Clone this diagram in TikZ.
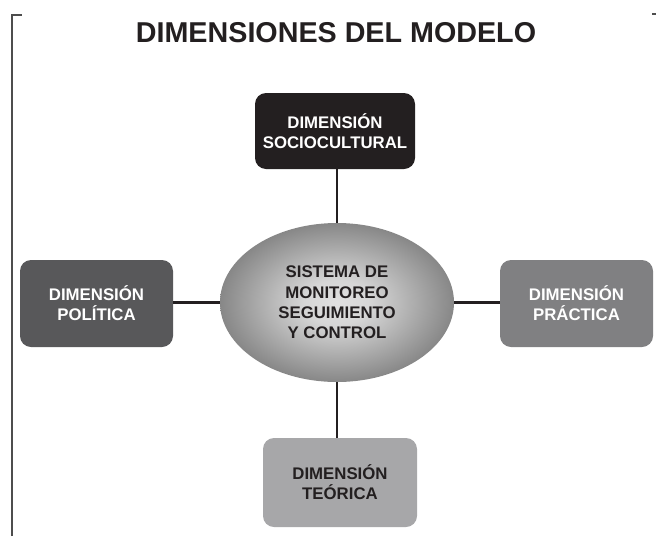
\documentclass[tikz,border=0pt]{standalone}
\usepackage{fontspec}
\setmainfont{Liberation Sans}
\usepackage{xcolor}
\usetikzlibrary{shapes.geometric, positioning, calc}

\definecolor{dimblack}{HTML}{231F20}
\definecolor{dimdark}{HTML}{58585A}
\definecolor{dimmid}{HTML}{808082}
\definecolor{dimlight}{HTML}{A7A7A9}
\definecolor{framegray}{HTML}{4D4D4D}
\pgfdeclareradialshading{sysglow}{\pgfpoint{0bp}{0bp}}{%
  color(0bp)=(white!88!black); color(7bp)=(white!84!black);
  color(25bp)=(white!53!black); color(50bp)=(white!53!black)}

\begin{document}
\begin{tikzpicture}[
  x=1pt, y=1pt,
  dimbox/.style={rounded corners=11pt, minimum width=154pt, minimum height=87pt,
               align=center, inner sep=0pt, text=white,
               font=\fontsize{16.8}{20}\selectfont\bfseries},
  center/.style={ellipse, minimum width=234pt, minimum height=159pt, inner sep=0pt,
               align=center, text=dimblack, shading=sysglow,
               font=\fontsize{16.8}{20.3}\selectfont\bfseries},
  conn/.style={line width=2.6pt, dimblack},
  frame/.style={line width=1.7pt, framegray},
]
  \useasboundingbox (0,0) rectangle (656,-536);

  \node[font=\fontsize{28.7}{30}\selectfont\bfseries, text=dimblack] (title) at (336,-33) {DIMENSIONES DEL MODELO};

  \node[center] (sys) at (337,-302.5) {SISTEMA DE\\MONITOREO\\SEGUIMIENTO\\Y CONTROL};

  \node[dimbox, fill=dimblack, minimum width=160pt, minimum height=76pt] (socio) at (335,-131) {DIMENSIÓN\\SOCIOCULTURAL};
  \node[dimbox, fill=dimdark, minimum width=153pt] (poli) at (96.5,-303.5) {DIMENSIÓN\\POLÍTICA};
  \node[dimbox, fill=dimmid, minimum width=153pt] (prac) at (576.5,-303.5) {DIMENSIÓN\\PRÁCTICA};
  \node[dimbox, fill=dimlight, text=dimblack, minimum height=89pt] (teor) at (340,-482.5) {DIMENSIÓN\\TEÓRICA};

  % connectors
  \draw[conn] (sys.north) -- (sys.north |- socio.south);
  \draw[conn] (sys.south) -- (sys.south |- teor.north);
  \draw[conn] (sys.west) -- (sys.west -| poli.east);
  \draw[conn] (sys.east) -- (sys.east -| prac.west);

  % frame marks
  \draw[frame] (12,-536) -- (12,-15) -- (22,-15);
  \draw[frame] (652,-14) -- (656,-14);
\end{tikzpicture}
\end{document}
